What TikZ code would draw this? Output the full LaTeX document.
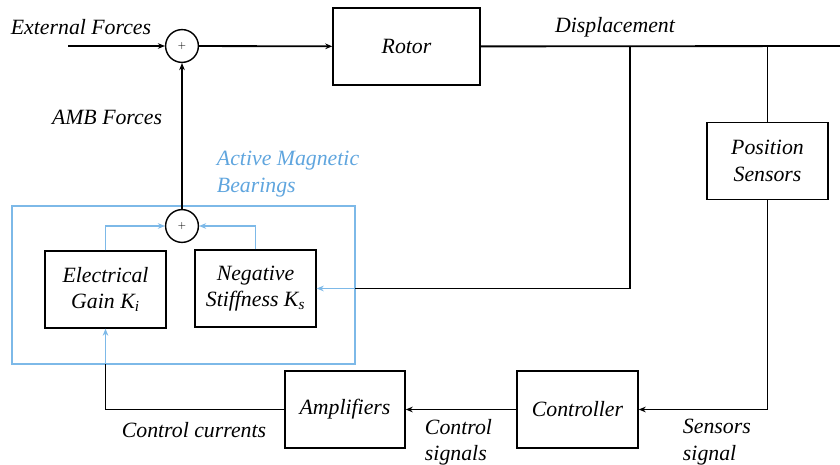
\documentclass[tikz,border=0pt]{standalone}
\usepackage{fontspec}
\setmainfont{Liberation Serif}
\usetikzlibrary{arrows.meta}
\definecolor{ambline}{RGB}{125,185,232}
\definecolor{ambtext}{RGB}{95,165,222}
\tikzset{
  blk/.style={draw, line width=1pt, minimum height=1.925cm, align=center,
    font=\itshape\fontsize{15.5}{19}\selectfont},
  sumnode/.style={draw, circle, line width=1pt, minimum size=0.82cm, inner sep=0pt},
  sig/.style={line width=1.3pt},
  lbl/.style={font=\itshape\fontsize{15.5}{19}\selectfont},
  >={Stealth[length=5pt,width=4pt]}
}
\begin{document}
\begin{tikzpicture}[x=0.025cm,y=-0.025cm]
\useasboundingbox (0,0) rectangle (840,465);

\node[sumnode] (S1) at (182,46) {\scriptsize$+$};
\node[blk, minimum width=3.675cm] (R) at (406.5,46.5) {Rotor};
\node[blk, minimum width=3.025cm] (P) at (767.5,161) {Position\\Sensors};
\node[blk, minimum width=3.025cm] (C) at (577.5,409.5) {Controller};
\node[blk, minimum width=3cm] (A) at (345,409.5) {Amplifiers};
\node[blk, minimum width=3.025cm] (E) at (105.5,289.5) {Electrical\\Gain K\textsubscript{i}};
\node[blk, minimum width=3.025cm] (N) at (255.5,288.5) {Negative\\Stiffness K\textsubscript{s}};
\node[sumnode] (S2) at (182,226) {\scriptsize$+$};

\draw[ambline, line width=1.3pt] (12,206) rectangle (355,364);

\coordinate (ext) at (68,46);
\coordinate (out) at (840,46);
\coordinate (tapA) at (630,46);
\coordinate (tapB) at (767.5,46);
\coordinate (bxR) at (355,288.5);
\coordinate (bxB) at (105.5,364);

\draw[sig,->] (ext) -- (S1);
\draw[sig,->] (S1) -- (R);
\draw[sig] (R) -- (out);
\draw[sig] (tapA) |- (bxR);
\draw[ambline,sig,->] (bxR) -- (N);
\draw[sig] (tapB) -- (P);
\draw[sig,->] (P) |- (C);
\draw[sig,->] (C) -- (A);
\draw[sig] (A) -| (bxB);
\draw[ambline,sig,->] (bxB) -- (E);
\draw[ambline,sig,->] (E) |- (S2);
\draw[ambline,sig,->] (N) |- (S2);
\draw[sig,->] (S2) -- (S1);

\node[lbl] (extF) at (81,27) {External Forces};
\node[lbl] (disp) at (615,27) {Displacement};
\node[lbl] (ambF) at (107,117) {AMB Forces};
\node[lbl, text=ambtext, align=left, anchor=north west] (ambB) at (212,146) {Active Magnetic\\Bearings};
\node[lbl] (ctrlI) at (194,430) {Control currents};
\node[lbl, align=left, anchor=north west] (ctrlS) at (420,414) {Control\\signals};
\node[lbl, align=left, anchor=north west] (sensS) at (678,414) {Sensors\\signal};

\end{tikzpicture}
\end{document}
